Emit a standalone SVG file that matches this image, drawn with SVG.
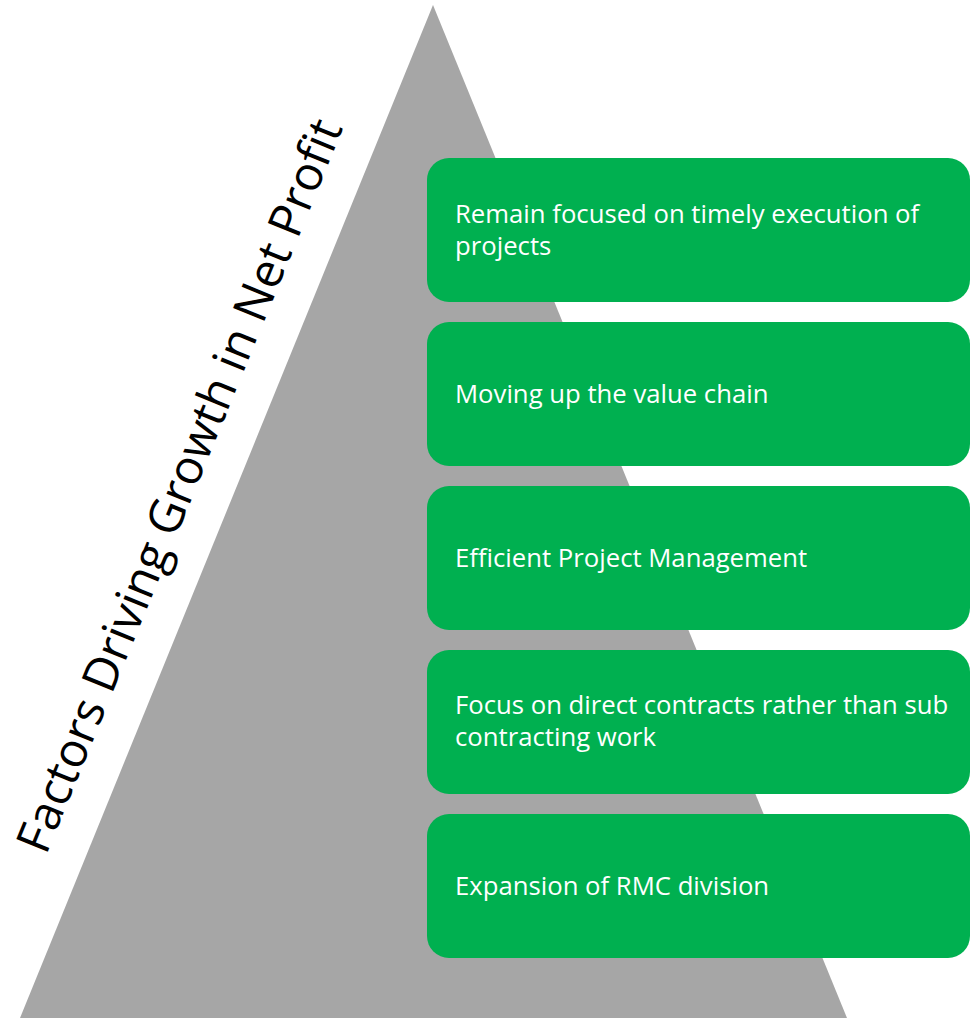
<svg xmlns="http://www.w3.org/2000/svg" width="977" height="1019" viewBox="0 0 977 1019">
<style>
.box{fill:#00B050}
.lbl{fill:#FFFFFF;font-family:"Open Sans","Liberation Sans",sans-serif;font-size:25.7px}
.title{fill:#000000;font-family:"Open Sans","Liberation Sans",sans-serif;font-size:47.5px}
</style>
<rect width="977" height="1019" fill="#FFFFFF"/>
<g id="pyramid">
<polygon points="433,5 20,1018 847,1018" fill="#A6A6A6"/>
</g>
<g id="title">
<text class="title" transform="translate(46,856) rotate(-67.8)">Factors Driving Growth in Net Profit</text>
</g>
<g id="connectors"></g>
<g id="node1">
<rect class="box" x="427" y="158" width="543" height="144" rx="22"/>
<text class="lbl" x="455" y="223">Remain focused on timely execution of</text>
<text class="lbl" x="455" y="255">projects</text>
</g>
<g id="node2">
<rect class="box" x="427" y="322" width="543" height="144" rx="22"/>
<text class="lbl" x="455" y="403">Moving up the value chain</text>
</g>
<g id="node3">
<rect class="box" x="427" y="486" width="543" height="144" rx="22"/>
<text class="lbl" x="455" y="567">Efficient Project Management</text>
</g>
<g id="node4">
<rect class="box" x="427" y="650" width="543" height="144" rx="22"/>
<text class="lbl" x="455" y="714">Focus on direct contracts rather than sub</text>
<text class="lbl" x="455" y="746">contracting work</text>
</g>
<g id="node5">
<rect class="box" x="427" y="814" width="543" height="144" rx="22"/>
<text class="lbl" x="455" y="895">Expansion of RMC division</text>
</g>
</svg>
